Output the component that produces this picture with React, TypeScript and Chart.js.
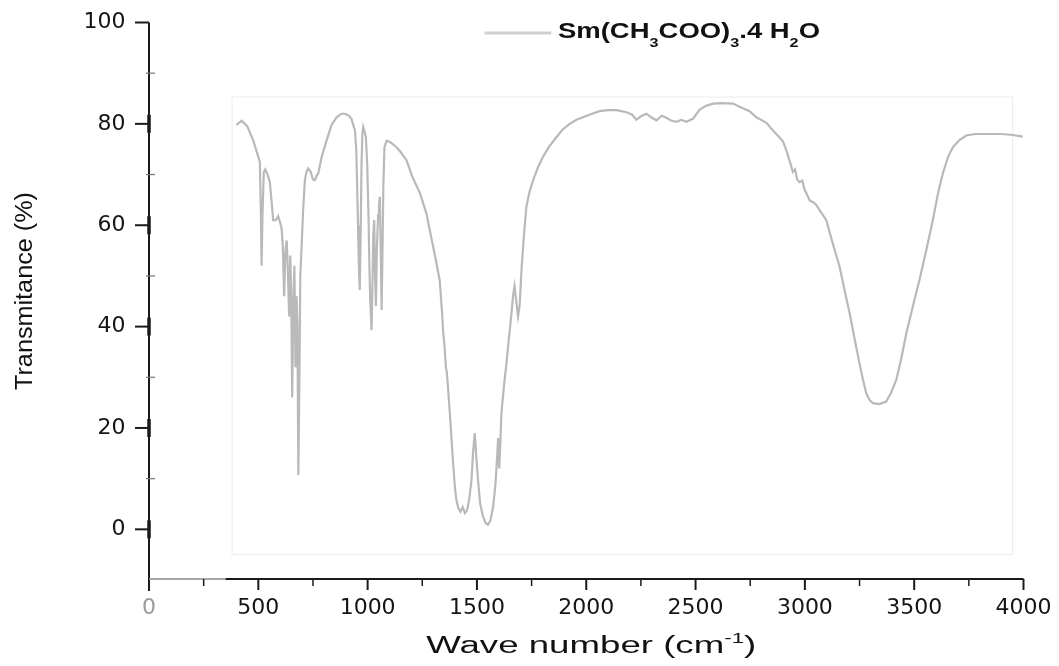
import React, { useEffect, useRef } from "react";
import { Chart, registerables } from "chart.js";

Chart.register(...registerables);

const WAVENUMBER = [
  400, 424, 450, 477, 500, 507, 512, 515, 519, 525, 532, 542, 553, 562, 568, 580, 591, 600, 606, 612,
  618, 624, 630, 636, 641, 646, 650, 655, 660, 665, 670, 675, 679, 683, 688, 692, 698, 705, 713, 720,
  728, 740, 750, 759, 767, 774, 790, 812, 835, 858, 880, 896, 915, 926, 936, 942, 948, 952, 956, 960,
  964, 968, 972, 976, 980, 986, 992, 998, 1004, 1008, 1012, 1018, 1022, 1026, 1030, 1034, 1038, 1042, 1048, 1052,
  1056, 1060, 1064, 1068, 1072, 1077, 1087, 1100, 1115, 1132, 1150, 1178, 1205, 1239, 1269, 1300, 1315, 1330, 1340, 1345,
  1352, 1358, 1362, 1366, 1376, 1391, 1400, 1406, 1415, 1425, 1435, 1445, 1455, 1465, 1475, 1482, 1490, 1496, 1505, 1515,
  1528, 1540, 1551, 1562, 1574, 1585, 1592, 1597, 1602, 1607, 1612, 1623, 1635, 1647, 1658, 1665, 1672, 1680, 1688, 1695,
  1705, 1715, 1726, 1740, 1757, 1780, 1802, 1830, 1864, 1890, 1924, 1955, 1985, 2020, 2061, 2100, 2138, 2184, 2210, 2229,
  2250, 2275, 2300, 2321, 2345, 2367, 2390, 2412, 2435, 2458, 2488, 2505, 2519, 2550, 2580, 2620, 2671, 2701, 2747, 2778,
  2824, 2854, 2880, 2900, 2915, 2935, 2945, 2955, 2965, 2976, 2988, 2999, 3010, 3022, 3040, 3052, 3075, 3098, 3130, 3159,
  3185, 3205, 3230, 3250, 3266, 3281, 3296, 3311, 3340, 3372, 3395, 3418, 3440, 3464, 3494, 3524, 3555, 3585, 3610, 3631,
  3655, 3677, 3707, 3738, 3780, 3844, 3900, 3950, 3997,
];

const TRANSMITTANCE = [
  79.8, 80.6, 79.5, 76.7, 73.5, 72.5, 62, 52, 62, 70.5, 71, 70, 68.5, 64, 61, 61, 61.8, 60.5, 59.5, 56,
  46, 55, 57, 50, 42, 54, 48, 26, 44, 52, 32, 46, 40, 10.7, 30, 50, 55.7, 63, 68.9, 70.5,
  71.2, 70.5, 69, 68.9, 69.8, 70.2, 73.5, 76.7, 79.8, 81.3, 82, 82, 81.6, 81, 79.5, 78.7, 75, 68, 60, 52,
  47.2, 58, 72, 78, 79.4, 78.5, 77.4, 72, 62, 52, 45, 39.3, 48, 58, 61, 50, 44, 55, 62, 64,
  65.6, 55, 43.3, 55, 68, 75.4, 76.7, 76.5, 76, 75.4, 74.5, 72.8, 69.5, 66.4, 62.3, 55.7, 52.5, 49, 43, 39.3,
  36, 32, 31, 29, 23, 13, 8, 5.8, 4.2, 3.5, 4.4, 3.2, 3.8, 6, 9.7, 15, 19, 15, 9.7, 5,
  2.5, 1.2, 0.9, 1.8, 4.5, 9, 14, 18, 12, 17, 23, 28, 32.8, 38, 42.6, 46, 48, 45, 42, 44,
  52, 58, 63.6, 66.5, 68.9, 71.5, 73.5, 75.5, 77.4, 78.8, 80, 80.8, 81.3, 81.9, 82.5, 82.7, 82.7, 82.3, 81.8, 80.8,
  81.5, 82, 81.2, 80.7, 81.6, 81.2, 80.6, 80.4, 80.8, 80.4, 81, 82, 82.8, 83.6, 84, 84.1, 84, 83.4, 82.5, 81.3,
  80.2, 78.7, 77.5, 76.5, 74.8, 72, 70.5, 71, 69, 68.5, 68.8, 67, 66, 64.9, 64.5, 64, 62.5, 61, 56, 51.8,
  46.5, 42.6, 37, 32.7, 29.5, 26.8, 25.5, 24.9, 24.7, 25.2, 27, 29.5, 33.5, 38.7, 44, 49.2, 55, 61, 66.5, 70.2,
  73.5, 75.4, 76.8, 77.7, 78, 78, 78, 77.8, 77.5,
];

const X_MAJOR_TICKS = [0, 500, 1000, 1500, 2000, 2500, 3000, 3500, 4000];
const X_MINOR_TICKS = [250, 750, 1250, 1750, 2250, 2750, 3250, 3750];
const Y_MAJOR_TICKS = [0, 20, 40, 60, 80, 100];
const Y_MINOR_TICKS = [10, 30, 50, 70, 90];

const SERIES_NAME = "Sm(CH3COO)3.4 H2O";
const LEGEND_RUNS = [
  { t: "Sm(CH", sub: false },
  { t: "3", sub: true },
  { t: "COO)", sub: false },
  { t: "3", sub: true },
  { t: ".4 H", sub: false },
  { t: "2", sub: true },
  { t: "O", sub: false },
];
const X_TITLE_RUNS = [
  { t: "Wave number (cm", sup: false },
  { t: "-1", sup: true },
  { t: ")", sup: false },
];
const Y_TITLE = "Transmitance (%)";

const LINE_COLOR = "#b9b9b9";
const AXIS_COLOR = "#1a1a1a";

function drawStretched(ctx: CanvasRenderingContext2D, runs: { t: string; font: string; dy: number }[], x: number, y: number, targetWidth: number, align: "left" | "center") {
  let total = 0;
  for (const r of runs) {
    ctx.font = r.font;
    total += ctx.measureText(r.t).width;
  }
  const s = targetWidth / total;
  ctx.save();
  ctx.translate(align === "center" ? x - targetWidth / 2 : x, y);
  ctx.scale(s, 1);
  ctx.textAlign = "left";
  ctx.textBaseline = "alphabetic";
  let cx = 0;
  for (const r of runs) {
    ctx.font = r.font;
    ctx.fillText(r.t, cx, r.dy);
    cx += ctx.measureText(r.t).width;
  }
  ctx.restore();
}

const decorPlugin = {
  id: "decor",
  beforeDatasetsDraw(chart: any) {
    const { ctx } = chart;
    const xs = chart.scales.x;
    const ys = chart.scales.y;
    ctx.save();
    ctx.strokeStyle = "#eeeeee";
    ctx.lineWidth = 1.2;
    const l = xs.getPixelForValue(380);
    const r = xs.getPixelForValue(3950);
    const t = ys.getPixelForValue(85.3);
    const b = ys.getPixelForValue(-5);
    ctx.strokeRect(l, t, r - l, b - t);
    ctx.restore();
  },
  afterDraw(chart: any) {
    const { ctx, chartArea } = chart;
    const xs = chart.scales.x;
    const ys = chart.scales.y;
    const left = chartArea.left;
    const bottom = chartArea.bottom;
    ctx.save();
    ctx.lineCap = "butt";
    // y axis line
    ctx.strokeStyle = AXIS_COLOR;
    ctx.lineWidth = 2;
    ctx.beginPath();
    ctx.moveTo(left, chartArea.top);
    ctx.lineTo(left, bottom + 12);
    ctx.stroke();
    // x axis line (faded start, dark rest)
    const fadeEnd = xs.getPixelForValue(350);
    ctx.strokeStyle = "#8a8a8a";
    ctx.lineWidth = 1.5;
    ctx.beginPath();
    ctx.moveTo(left, bottom);
    ctx.lineTo(fadeEnd, bottom);
    ctx.stroke();
    ctx.strokeStyle = AXIS_COLOR;
    ctx.lineWidth = 2.2;
    ctx.beginPath();
    ctx.moveTo(fadeEnd, bottom);
    ctx.lineTo(chartArea.right, bottom);
    ctx.stroke();
    // y major ticks
    for (const v of Y_MAJOR_TICKS) {
      const py = ys.getPixelForValue(v);
      ctx.lineWidth = 2;
      ctx.beginPath();
      ctx.moveTo(left - 14, py);
      ctx.lineTo(left, py);
      ctx.stroke();
      if (v < 100) {
        ctx.lineWidth = 3.5;
        ctx.beginPath();
        ctx.moveTo(left, py - 9);
        ctx.lineTo(left, py + 9);
        ctx.stroke();
      }
    }
    // y minor ticks
    ctx.strokeStyle = "#777";
    ctx.lineWidth = 1.2;
    for (const v of Y_MINOR_TICKS) {
      const py = ys.getPixelForValue(v);
      ctx.beginPath();
      ctx.moveTo(left - 3, py);
      ctx.lineTo(left + 6, py);
      ctx.stroke();
    }
    // x ticks
    ctx.strokeStyle = AXIS_COLOR;
    ctx.lineWidth = 2;
    for (const v of X_MAJOR_TICKS) {
      if (v === 0) continue;
      const px = xs.getPixelForValue(v);
      ctx.beginPath();
      ctx.moveTo(px, bottom);
      ctx.lineTo(px, bottom + 11);
      ctx.stroke();
    }
    ctx.lineWidth = 1.5;
    for (const v of X_MINOR_TICKS) {
      const px = xs.getPixelForValue(v);
      ctx.beginPath();
      ctx.moveTo(px, bottom);
      ctx.lineTo(px, bottom + 7);
      ctx.stroke();
    }

    // legend
    const lx0 = xs.getPixelForValue(1535);
    const lx1 = xs.getPixelForValue(1840);
    ctx.strokeStyle = "#d0d0d0";
    ctx.lineWidth = 3;
    ctx.beginPath();
    ctx.moveTo(lx0, 33);
    ctx.lineTo(lx1, 33);
    ctx.stroke();
    ctx.fillStyle = "#111";
    drawStretched(
      ctx,
      LEGEND_RUNS.map((r) => ({
        t: r.t,
        font: r.sub ? 'bold 13px "Liberation Sans", Arial, sans-serif' : 'bold 22px "Liberation Sans", Arial, sans-serif',
        dy: r.sub ? 9 : 0,
      })),
      558,
      38,
      262,
      "left"
    );

    // x title
    ctx.fillStyle = "#111";
    drawStretched(
      ctx,
      X_TITLE_RUNS.map((r) => ({
        t: r.t,
        font: r.sup ? '14px "Liberation Sans", Arial, sans-serif' : '23px "Liberation Sans", Arial, sans-serif',
        dy: r.sup ? -10 : 0,
      })),
      (chartArea.left + chartArea.right) / 2 + 5,
      653,
      330,
      "center"
    );

    // y title
    ctx.save();
    ctx.translate(32, 291);
    ctx.rotate(-Math.PI / 2);
    drawStretched(ctx, [{ t: Y_TITLE, font: '23.5px "Liberation Sans", Arial, sans-serif', dy: 0 }], 0, 0, 198, "center");
    ctx.restore();

    ctx.restore();
  },
};

export default function App() {
  const canvasRef = useRef<HTMLCanvasElement | null>(null);

  useEffect(() => {
    document.body.style.margin = "0";
    const canvas = canvasRef.current;
    if (!canvas) return;
    const points = WAVENUMBER.map((x, i) => ({ x, y: TRANSMITTANCE[i] }));
    const chart = new Chart(canvas, {
      type: "line",
      data: {
        datasets: [
          {
            label: SERIES_NAME,
            data: points,
            borderColor: LINE_COLOR,
            borderWidth: 2.2,
            pointRadius: 0,
            tension: 0,
            fill: false,
          },
        ],
      },
      options: {
        responsive: false,
        animation: false,
        layout: { padding: { top: 22.5, right: 35.5, left: 0, bottom: 0 } },
        plugins: {
          legend: { display: false },
          tooltip: { enabled: false },
          title: { display: false },
        },
        scales: {
          x: {
            type: "linear",
            min: 0,
            max: 4000,
            grid: { display: false, drawTicks: false },
            border: { display: false },
            afterBuildTicks: (scale: any) => {
              scale.ticks = X_MAJOR_TICKS.map((v) => ({ value: v }));
            },
            afterFit: (scale: any) => {
              scale.height = 87;
              scale.paddingLeft = 0;
              scale.paddingRight = 0;
            },
            ticks: {
              padding: 16,
              maxRotation: 0,
              autoSkip: false,
              font: { family: '"DejaVu Sans", sans-serif', size: 22 },
              color: (c: any) => (c.tick && c.tick.value === 0 ? "#9a9a9a" : "#151515"),
              callback: (v: any) => String(v),
            },
          },
          y: {
            type: "linear",
            min: -9.8,
            max: 100,
            grid: { display: false, drawTicks: false },
            border: { display: false },
            afterBuildTicks: (scale: any) => {
              scale.ticks = Y_MAJOR_TICKS.map((v) => ({ value: v }));
            },
            afterFit: (scale: any) => {
              scale.width = 149;
              scale.paddingTop = 0;
              scale.paddingBottom = 0;
            },
            ticks: {
              padding: 23.5,
              autoSkip: false,
              font: { family: '"DejaVu Sans", sans-serif', size: 22 },
              color: "#151515",
              callback: (v: any) => String(v),
            },
          },
        },
      },
      plugins: [decorPlugin],
    });
    return () => chart.destroy();
  }, []);

  return (
    <div style={{ position: "absolute", left: 0, top: 0, width: 1059, height: 666, background: "#fff" }}>
      <canvas ref={canvasRef} width={1059} height={666} style={{ display: "block" }} />
    </div>
  );
}
